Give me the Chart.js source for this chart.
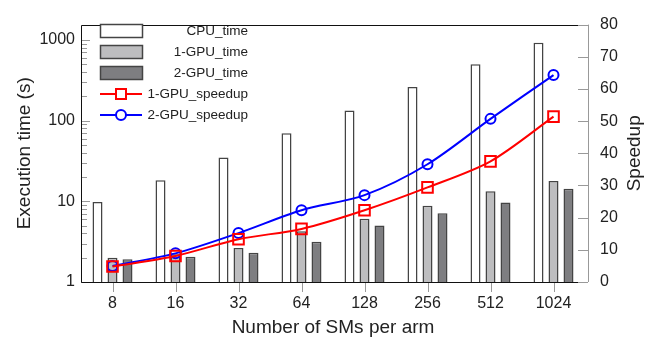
<!DOCTYPE html>
<html>
<head>
<meta charset="utf-8">
<script src="https://cdn.jsdelivr.net/npm/chart.js@4"></script>
<style>
  html, body { margin: 0; padding: 0; background: #fff; }
  #wrap { width: 661px; height: 341px; }
</style>
</head>
<body>
<div id="wrap"><canvas id="chart" width="661" height="341"></canvas></div>
<script>
const smCounts = ["8", "16", "32", "64", "128", "256", "512", "1024"];
const cpuTime = [9.8, 18.2, 35, 70, 134, 261, 500, 925];
const gpu1Time = [2.0, 2.2, 2.64, 4.25, 6.1, 8.8, 13.3, 17.8];
const gpu2Time = [1.92, 2.05, 2.3, 3.15, 5.0, 7.1, 9.7, 14.3];
const gpu1Speedup = [4.8, 8.1, 13.3, 16.5, 22.3, 29.4, 37.5, 51.4];
const gpu2Speedup = [5.0, 8.9, 15.2, 22.3, 27.0, 36.6, 50.7, 64.3];

const FONT = "'Liberation Sans', Arial, Helvetica, sans-serif";
const TXT = "#222";
const TICK = "#999";

// frame, axis ticks, right title and the legend are drawn by hand
const decor = {
  id: "decor",
  afterDraw(chart) {
    const ctx = chart.ctx;
    const a = chart.chartArea;
    const x = chart.scales.x, y = chart.scales.y, y2 = chart.scales.y2;
    const frameRight = a.right - 7;
    const spineX = a.right + 3;
    ctx.save();
    ctx.lineWidth = 1;

    // tick marks
    ctx.strokeStyle = TICK;
    ctx.beginPath();
    [1, 10, 100, 1000].forEach(d => {
      let py = Math.round(y.getPixelForValue(d)) + 0.5;
      ctx.moveTo(a.left, py); ctx.lineTo(a.left + 9, py);
      for (let k = 2; k <= 9; k++) {
        if (d * k > y.max) break;
        py = Math.round(y.getPixelForValue(d * k)) + 0.5;
        ctx.moveTo(a.left, py); ctx.lineTo(a.left + 6, py);
      }
    });
    for (let v = 0; v <= 80; v += 10) {
      const py = Math.round(y2.getPixelForValue(v)) + 0.5;
      ctx.moveTo(spineX - 10, py); ctx.lineTo(spineX, py);
    }
    smCounts.forEach((c, i) => {
      const px = Math.round(x.getPixelForValue(i)) + 0.5;
      ctx.moveTo(px, a.bottom); ctx.lineTo(px, a.bottom + 10);
    });
    ctx.moveTo(spineX + 0.5, a.top); ctx.lineTo(spineX + 0.5, a.bottom);
    ctx.stroke();

    // black frame
    ctx.strokeStyle = "#111";
    ctx.beginPath();
    ctx.moveTo(frameRight, Math.round(a.top) + 0.5);
    ctx.lineTo(a.left + 0.5, Math.round(a.top) + 0.5);
    ctx.lineTo(a.left + 0.5, Math.round(a.bottom) + 0.5);
    ctx.lineTo(frameRight, Math.round(a.bottom) + 0.5);
    ctx.stroke();

    // right axis title, reading bottom to top
    ctx.save();
    ctx.translate(635, (a.top + a.bottom) / 2);
    ctx.rotate(-Math.PI / 2);
    ctx.font = "19px " + FONT;
    ctx.fillStyle = TXT;
    ctx.textAlign = "center";
    ctx.textBaseline = "middle";
    ctx.fillText("Speedup", 0, 0);
    ctx.restore();

    // legend
    const lx = 100, lw = 42, textRight = 248;
    ctx.font = "13.5px " + FONT;
    ctx.textAlign = "right";
    ctx.textBaseline = "middle";
    chart.data.datasets.forEach((ds, i) => {
      const cy = 31 + i * 21;
      if (ds.type === "bar") {
        ctx.fillStyle = ds.backgroundColor;
        ctx.fillRect(lx, cy - 7, lw, 14);
        ctx.strokeStyle = "#444";
        ctx.lineWidth = 1.5;
        ctx.strokeRect(lx + 0.5, cy - 6.5, lw, 13);
        ctx.lineWidth = 1;
      } else {
        ctx.strokeStyle = ds.borderColor;
        ctx.lineWidth = 2;
        ctx.beginPath();
        ctx.moveTo(lx, cy); ctx.lineTo(lx + lw, cy);
        ctx.stroke();
        ctx.beginPath();
        if (ds.pointStyle === "rect") {
          ctx.rect(lx + lw / 2 - 5, cy - 5, 10, 10);
        } else {
          ctx.arc(lx + lw / 2, cy, 5, 0, Math.PI * 2);
        }
        ctx.fillStyle = "#fff";
        ctx.fill();
        ctx.stroke();
        ctx.lineWidth = 1;
      }
      ctx.fillStyle = TXT;
      ctx.fillText(ds.label, textRight, cy);
    });
    ctx.restore();
  }
};

function barSet(label, data, fill) {
  return {
    type: "bar", label: label, data: data, yAxisID: "y", order: 2,
    backgroundColor: fill, borderColor: "#444", borderWidth: 1.5,
    borderSkipped: "bottom",
    categoryPercentage: 0.714, barPercentage: 0.667
  };
}

function lineSet(label, data, color, style, radius) {
  return {
    type: "line", label: label, data: data, yAxisID: "y2", order: 1,
    borderColor: color, borderWidth: 2, tension: 0.3,
    pointStyle: style, pointRadius: radius, pointBorderWidth: 2,
    pointBorderColor: color, pointBackgroundColor: "rgba(0,0,0,0)"
  };
}

new Chart(document.getElementById("chart"), {
  data: {
    labels: smCounts,
    datasets: [
      barSet("CPU_time", cpuTime, "#ffffff"),
      barSet("1-GPU_time", gpu1Time, "#bdbdbf"),
      barSet("2-GPU_time", gpu2Time, "#7e7e81"),
      lineSet("1-GPU_speedup", gpu1Speedup, "#ff0000", "rect", 7.5),
      lineSet("2-GPU_speedup", gpu2Speedup, "#0000ff", "circle", 5)
    ]
  },
  options: {
    responsive: false,
    animation: false,
    layout: { padding: { top: 9, left: 0, right: 0, bottom: 0 } },
    plugins: { legend: { display: false }, tooltip: { enabled: false } },
    scales: {
      x: {
        type: "category",
        offset: true,
        grid: { display: false, drawTicks: false },
        border: { display: false },
        ticks: { color: TXT, font: { family: FONT, size: 16 }, padding: 12 },
        title: { display: true, text: "Number of SMs per arm", color: TXT,
                 font: { family: FONT, size: 19 }, padding: { top: 0, bottom: 2 } },
        afterFit: s => { s.height = 59; }
      },
      y: {
        type: "logarithmic",
        position: "left",
        min: 1,
        max: 1550,
        grid: { display: false, drawTicks: false },
        border: { display: false },
        ticks: {
          color: TXT, font: { family: FONT, size: 16 }, padding: 6, autoSkip: false,
          callback: v => {
            const e = Math.log10(v);
            return Math.abs(e - Math.round(e)) < 1e-9 ? String(v) : "";
          }
        },
        title: { display: true, text: "Execution time (s)", color: TXT,
                 font: { family: FONT, size: 19 }, padding: { top: 13, bottom: 0 } },
        afterFit: s => { s.width = 81; }
      },
      y2: {
        type: "linear",
        position: "right",
        min: 0,
        max: 80,
        grid: { display: false, drawTicks: false },
        border: { display: false },
        ticks: { stepSize: 10, color: TXT, font: { family: FONT, size: 16 }, padding: 15 },
        afterFit: s => { s.width = 76; }
      }
    }
  },
  plugins: [decor]
});
</script>
</body>
</html>
